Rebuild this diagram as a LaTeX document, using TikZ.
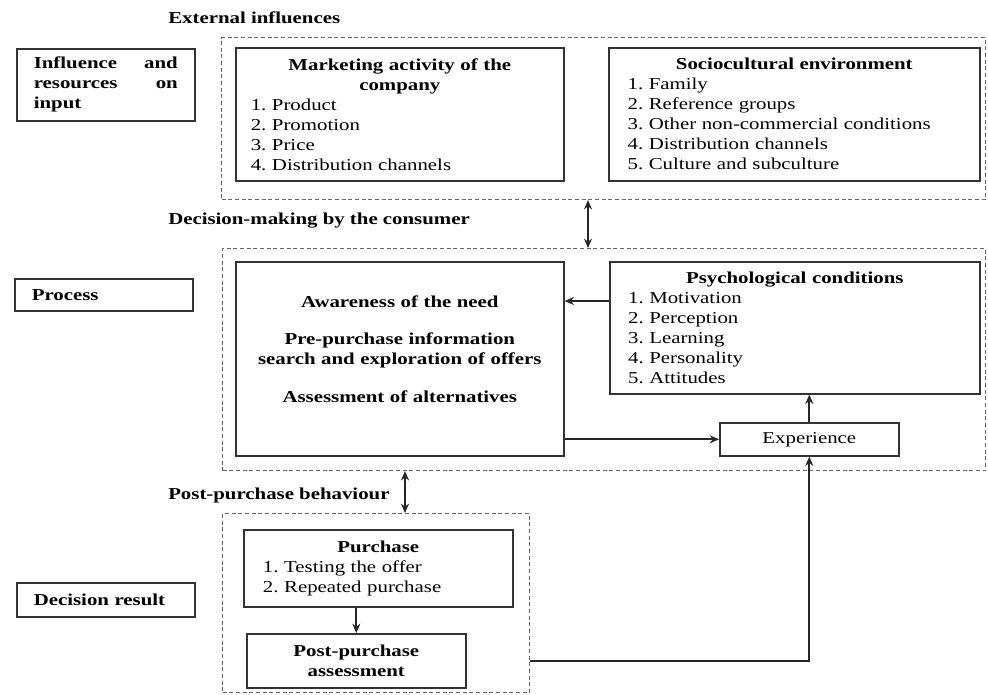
\documentclass[tikz,border=0pt]{standalone}
\usepackage{fontspec}
\setmainfont{Liberation Serif}[FakeStretch=1.25]
\usetikzlibrary{arrows.meta}

\newcommand\boxfont{\fontsize{12.5}{15}\selectfont\frenchspacing}

\tikzset{
  box/.style={draw=black!80, line width=1.2pt, anchor=north west, inner xsep=0pt, font=\boxfont},
  boldbox/.style={box, font=\boxfont\bfseries},
  side/.style={boldbox, minimum width=133.5pt, text width=108pt, align=left},
  group/.style={draw=black!60, dash pattern=on 3pt off 2pt, line width=0.8pt, anchor=north west, inner sep=0pt},
  head/.style={anchor=west, inner sep=0pt, font=\boxfont\bfseries},
  link/.style={draw=black!85, line width=1.3pt}
}

\begin{document}
\begin{tikzpicture}[x=0.75pt,y=-0.75pt,>={Stealth[length=7pt,width=6pt]}]
  \useasboundingbox (0,0) rectangle (988,694);
  % dashed groups
  \node[group, minimum width=573pt, minimum height=121.5pt] (ext) at (221,37) {};
  \node[group, minimum width=572.25pt, minimum height=166.5pt] (proc) at (222,248) {};
  \node[group, minimum width=230.25pt, minimum height=134.25pt] (res) at (222,513) {};
  % headings
  \node[head] (h_ext) at (168,18) {External influences};
  \node[head] (h_dec) at (168,221) {Decision-making by the consumer};
  \node[head] (h_post) at (168,495) {Post-purchase behaviour};
  % left column
  \node[side, minimum height=54pt] (input) at (16,48) {Influence\hfill and\\ resources\hfill on\\ input};
  \node[side, minimum height=24pt] (process) at (14,278) {Process};
  \node[side, minimum height=25.5pt] (result) at (16,582) {Decision result};
  % external influences
  \node[box, minimum width=246pt, minimum height=99.75pt, text width=223.5pt, align=left] (marketing) at (235,47)
    {{\centering\bfseries Marketing activity of the\\ company\par}
     1. Product\\ 2. Promotion\\ 3. Price\\ 4. Distribution channels};
  \node[box, minimum width=278.25pt, minimum height=99.75pt, text width=250pt, align=left] (socio) at (608,47)
    {{\centering\bfseries Sociocultural environment\par}
     1. Family\\ 2. Reference groups\\ 3. Other non-commercial conditions\\ 4. Distribution channels\\ 5. Culture and subculture};
  % decision-making
  \node[boldbox, minimum width=246pt, minimum height=145.5pt, text width=225pt, align=center] (decision) at (235,261)
    {Awareness of the need\\[13pt] Pre-purchase information\\ search and exploration of offers\\[13pt] Assessment of alternatives\\ \mbox{}};
  \node[box, minimum width=277.5pt, minimum height=99pt, text width=250pt, align=left] (psych) at (609,261)
    {{\centering\bfseries Psychological conditions\par}
     1. Motivation\\ 2. Perception\\ 3. Learning\\ 4. Personality\\ 5. Attitudes};
  \node[box, minimum width=134.25pt, minimum height=24.75pt, align=center] (experience) at (719,422) {Experience};
  % result
  \node[box, minimum width=201.75pt, minimum height=57.75pt, text width=173pt, align=left] (purchase) at (243,529)
    {{\centering\bfseries Purchase\par}
     1. Testing the offer\\ 2. Repeated purchase};
  \node[boldbox, minimum width=164.25pt, minimum height=40.5pt, text width=150pt, align=center] (post) at (246,633)
    {Post-purchase\\ assessment};

  % connectors
  \coordinate (ext_proc) at (588,0);
  \coordinate (proc_res) at (405,0);
  \coordinate (need) at (0,301);
  \draw[link,<->] (ext_proc |- ext.south) -- (ext_proc |- proc.north);
  \draw[link,<->] (proc_res |- proc.south) -- (proc_res |- res.north);
  \draw[link,->] (psych.west |- need) -- (decision.east |- need);
  \draw[link,->] (decision.east |- experience) -- (experience.west);
  \draw[link,->] (experience.north) -- (experience.north |- psych.south);
  \draw[link,->] (post.north |- purchase.south) -- (post.north);
  \draw[link,->] (res.east |- post) -- (experience.south |- post) -- (experience.south);
\end{tikzpicture}
\end{document}
